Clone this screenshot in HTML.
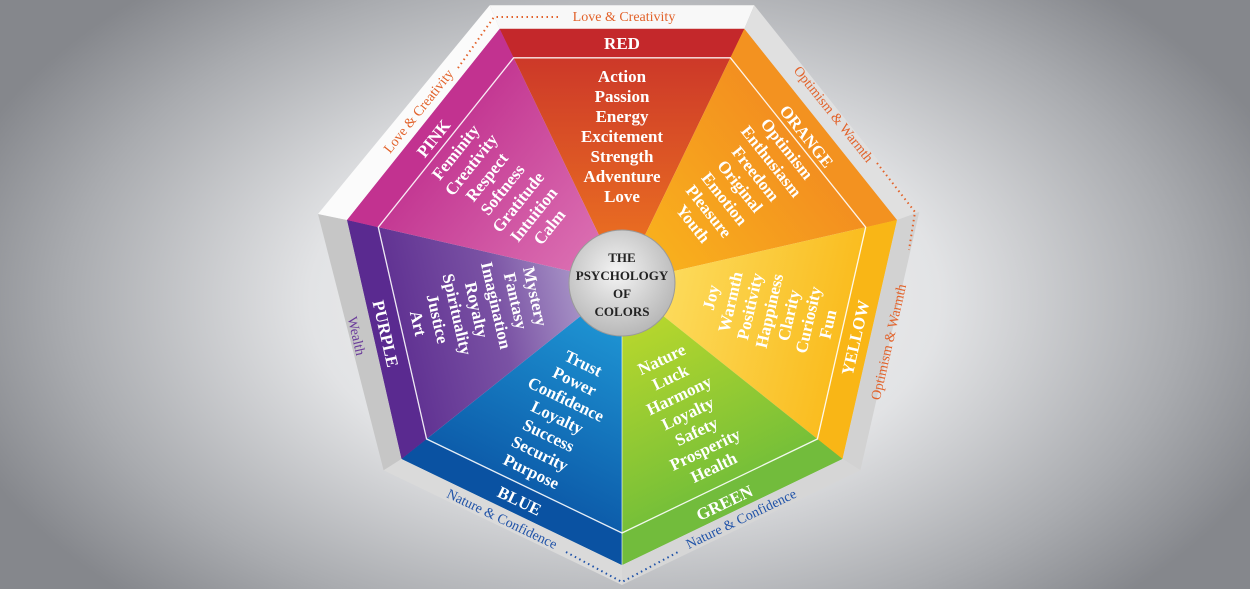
<!DOCTYPE html>
<html><head><meta charset="utf-8"><style>
html,body{margin:0;padding:0;width:1250px;height:589px;overflow:hidden}
body{background:radial-gradient(ellipse 700px 420px at 625px 300px,#f6f6f6 0%,#e2e3e5 45%,#a9abaf 80%,#85878c 100%)}
svg{position:absolute;left:0;top:0}
text{font-family:"Liberation Serif",serif}
.w{fill:#fff;font-weight:bold;font-size:17px}
.b{fill:#fff;font-weight:bold;font-size:17px}
.o{font-size:14px;fill:#e2622a}
</style></head><body>
<svg width="1250" height="589" viewBox="0 0 1250 589">
<defs>
<linearGradient id="gR" gradientUnits="userSpaceOnUse" x1="622" y1="283" x2="622" y2="29"><stop offset="0" stop-color="#f07a20"/><stop offset="1" stop-color="#c8302a"/></linearGradient>
<linearGradient id="gO" gradientUnits="userSpaceOnUse" x1="622" y1="283" x2="820" y2="124"><stop offset="0" stop-color="#fab81c"/><stop offset="1" stop-color="#f28a20"/></linearGradient>
<linearGradient id="gY" gradientUnits="userSpaceOnUse" x1="622" y1="283" x2="870" y2="340"><stop offset="0" stop-color="#fde26a"/><stop offset="1" stop-color="#f9b816"/></linearGradient>
<linearGradient id="gG" gradientUnits="userSpaceOnUse" x1="622" y1="283" x2="732" y2="512"><stop offset="0" stop-color="#c6dc2a"/><stop offset="1" stop-color="#6cbc3a"/></linearGradient>
<linearGradient id="gB" gradientUnits="userSpaceOnUse" x1="622" y1="283" x2="512" y2="512"><stop offset="0" stop-color="#22a0dc"/><stop offset="1" stop-color="#0a54a4"/></linearGradient>
<linearGradient id="gP" gradientUnits="userSpaceOnUse" x1="622" y1="283" x2="374" y2="340"><stop offset="0" stop-color="#beb4d8"/><stop offset="0.5" stop-color="#7a52a4"/><stop offset="1" stop-color="#5a2a8e"/></linearGradient>
<linearGradient id="gK" gradientUnits="userSpaceOnUse" x1="622" y1="283" x2="423" y2="124"><stop offset="0" stop-color="#e07ab8"/><stop offset="1" stop-color="#c0308e"/></linearGradient>
<radialGradient id="gC" cx="0.45" cy="0.4" r="0.6"><stop offset="0" stop-color="#f4f4f4"/><stop offset="1" stop-color="#b8b8b8"/></radialGradient>
</defs>
<polygon points="489.7,5.2 754.3,5.2 744.3,28.9 499.7,28.9" fill="#f8f8f8"/>
<polygon points="754.3,5.2 919.3,211.9 896.9,220 744.3,28.9" fill="#e0e0e0"/>
<polygon points="919.3,211.9 860.4,470.3 842.4,458.9 896.9,220" fill="#d2d2d2"/>
<polygon points="860.4,470.3 622,585 622,565 842.4,458.9" fill="#d6d6d6"/>
<polygon points="622,585 383.6,470.3 401.6,458.9 622,565" fill="#dadada"/>
<polygon points="383.6,470.3 318,214 347.1,220 401.6,458.9" fill="#c6c6c6"/>
<polygon points="318,214 489.7,5.2 499.7,28.9 347.1,220" fill="#fbfbfb"/>
<polygon points="622,283 499.7,28.9 744.3,28.9" fill="url(#gR)"/>
<polygon points="622,283 744.3,28.9 896.9,220" fill="url(#gO)"/>
<polygon points="622,283 896.9,220 842.4,458.9" fill="url(#gY)"/>
<polygon points="622,283 842.4,458.9 622,565" fill="url(#gG)"/>
<polygon points="622,283 622,565 401.6,458.9" fill="url(#gB)"/>
<polygon points="622,283 401.6,458.9 347.1,220" fill="url(#gP)"/>
<polygon points="622,283 347.1,220 499.7,28.9" fill="url(#gK)"/>
<polygon points="499.7,28.9 744.3,28.9 730.4,57.8 513.6,57.8" fill="#c4282b"/>
<polygon points="744.3,28.9 896.9,220 865.7,227.2 730.4,57.8" fill="#f39220"/>
<polygon points="896.9,220 842.4,458.9 817.4,439 865.7,227.2" fill="#f9b616"/>
<polygon points="842.4,458.9 622,565 622,533 817.4,439" fill="#72bc3c"/>
<polygon points="622,565 401.6,458.9 426.6,439 622,533" fill="#0a52a2"/>
<polygon points="401.6,458.9 347.1,220 378.3,227.2 426.6,439" fill="#5a2a90"/>
<polygon points="347.1,220 499.7,28.9 513.6,57.8 378.3,227.2" fill="#c23290"/>
<polygon points="513.6,57.8 730.4,57.8 865.7,227.2 817.4,439 622,533 426.6,439 378.3,227.2" fill="none" stroke="#fff" stroke-width="1.3" opacity="0.9"/>
<line x1="622" y1="283" x2="622" y2="565" stroke="#fff" stroke-width="1" opacity="0.6"/>
<circle cx="622" cy="283" r="53" fill="url(#gC)" stroke="#9a9a9a" stroke-width="1"/>
<text x="622" y="262" text-anchor="middle" font-weight="bold" font-size="13" fill="#222">THE</text>
<text x="622" y="280" text-anchor="middle" font-weight="bold" font-size="13" fill="#222">PSYCHOLOGY</text>
<text x="622" y="298" text-anchor="middle" font-weight="bold" font-size="13" fill="#222">OF</text>
<text x="622" y="316" text-anchor="middle" font-weight="bold" font-size="13" fill="#222">COLORS</text>
<text class="b" x="622" y="49" text-anchor="middle">RED</text>
<text class="b" text-anchor="middle" transform="translate(802,140) rotate(51.4)">ORANGE</text>
<text class="b" text-anchor="middle" transform="translate(861,339) rotate(-77.1)">YELLOW</text>
<text class="b" text-anchor="middle" transform="translate(727,508) rotate(-25.7)">GREEN</text>
<text class="b" text-anchor="middle" transform="translate(517,506) rotate(25.7)">BLUE</text>
<text class="b" text-anchor="middle" transform="translate(380,335) rotate(77.1)">PURPLE</text>
<text class="b" text-anchor="middle" transform="translate(438,142) rotate(-51.4)">PINK</text>
<text class="w" text-anchor="middle" transform="translate(622,137)">
<tspan x="0" y="-55">Action</tspan><tspan x="0" y="-35">Passion</tspan><tspan x="0" y="-15">Energy</tspan><tspan x="0" y="5">Excitement</tspan><tspan x="0" y="25">Strength</tspan><tspan x="0" y="45">Adventure</tspan><tspan x="0" y="65">Love</tspan></text>
<text class="w" text-anchor="middle" transform="translate(738,188) rotate(51.4)">
<tspan x="0" y="-57">Optimism</tspan><tspan x="0" y="-37">Enthusiasm</tspan><tspan x="0" y="-17">Freedom</tspan><tspan x="0" y="3">Original</tspan><tspan x="0" y="23">Emotion</tspan><tspan x="0" y="43">Pleasure</tspan><tspan x="0" y="63">Youth</tspan></text>
<text class="w" text-anchor="middle" transform="translate(770,311) rotate(-77.1)">
<tspan x="0" y="-55">Joy</tspan><tspan x="0" y="-35">Warmth</tspan><tspan x="0" y="-15">Positivity</tspan><tspan x="0" y="5">Happiness</tspan><tspan x="0" y="25">Clarity</tspan><tspan x="0" y="45">Curiosity</tspan><tspan x="0" y="65">Fun</tspan></text>
<text class="w" text-anchor="middle" transform="translate(688,414) rotate(-25.7)">
<tspan x="0" y="-55">Nature</tspan><tspan x="0" y="-35">Luck</tspan><tspan x="0" y="-15">Harmony</tspan><tspan x="0" y="5">Loyalty</tspan><tspan x="0" y="25">Safety</tspan><tspan x="0" y="45">Prosperity</tspan><tspan x="0" y="65">Health</tspan></text>
<text class="w" text-anchor="middle" transform="translate(557,418) rotate(25.7)">
<tspan x="0" y="-55">Trust</tspan><tspan x="0" y="-35">Power</tspan><tspan x="0" y="-15">Confidence</tspan><tspan x="0" y="5">Loyalty</tspan><tspan x="0" y="25">Success</tspan><tspan x="0" y="45">Security</tspan><tspan x="0" y="65">Purpose</tspan></text>
<text class="w" text-anchor="middle" transform="translate(476,310) rotate(77.1)">
<tspan x="0" y="-55">Mystery</tspan><tspan x="0" y="-35">Fantasy</tspan><tspan x="0" y="-15">Imagination</tspan><tspan x="0" y="5">Royalty</tspan><tspan x="0" y="25">Spirituality</tspan><tspan x="0" y="45">Justice</tspan><tspan x="0" y="65">Art</tspan></text>
<text class="w" text-anchor="middle" transform="translate(503,190) rotate(-51.4)">
<tspan x="0" y="-55">Feminity</tspan><tspan x="0" y="-35">Creativity</tspan><tspan x="0" y="-15">Respect</tspan><tspan x="0" y="5">Softness</tspan><tspan x="0" y="25">Gratitude</tspan><tspan x="0" y="45">Intuition</tspan><tspan x="0" y="65">Calm</tspan></text>
<g fill="none" stroke-width="2" stroke-dasharray="1.5 3.5">
<polyline points="558,17 494,17 458,68" stroke="#e2622a"/>
<polyline points="877,163 915,212 909,250" stroke="#e2622a"/>
<polyline points="566,552 622,582 678,552" stroke="#1f52a8"/>
</g>
<text class="o" x="624" y="21" text-anchor="middle">Love &amp; Creativity</text>
<text class="o" text-anchor="middle" transform="translate(422,114) rotate(-51.4)">Love &amp; Creativity</text>
<text class="o" text-anchor="middle" transform="translate(830,117) rotate(51.4)">Optimism &amp; Warmth</text>
<text class="o" text-anchor="middle" transform="translate(893,343) rotate(-77.1)">Optimism &amp; Warmth</text>
<text font-size="14" fill="#6a3a9a" text-anchor="middle" transform="translate(352,337) rotate(77.1)">Wealth</text>
<text font-size="14" fill="#1f52a8" text-anchor="middle" transform="translate(500,523) rotate(25.7)">Nature &amp; Confidence</text>
<text font-size="14" fill="#1f52a8" text-anchor="middle" transform="translate(743,523) rotate(-25.7)">Nature &amp; Confidence</text>
</svg>
</body></html>
